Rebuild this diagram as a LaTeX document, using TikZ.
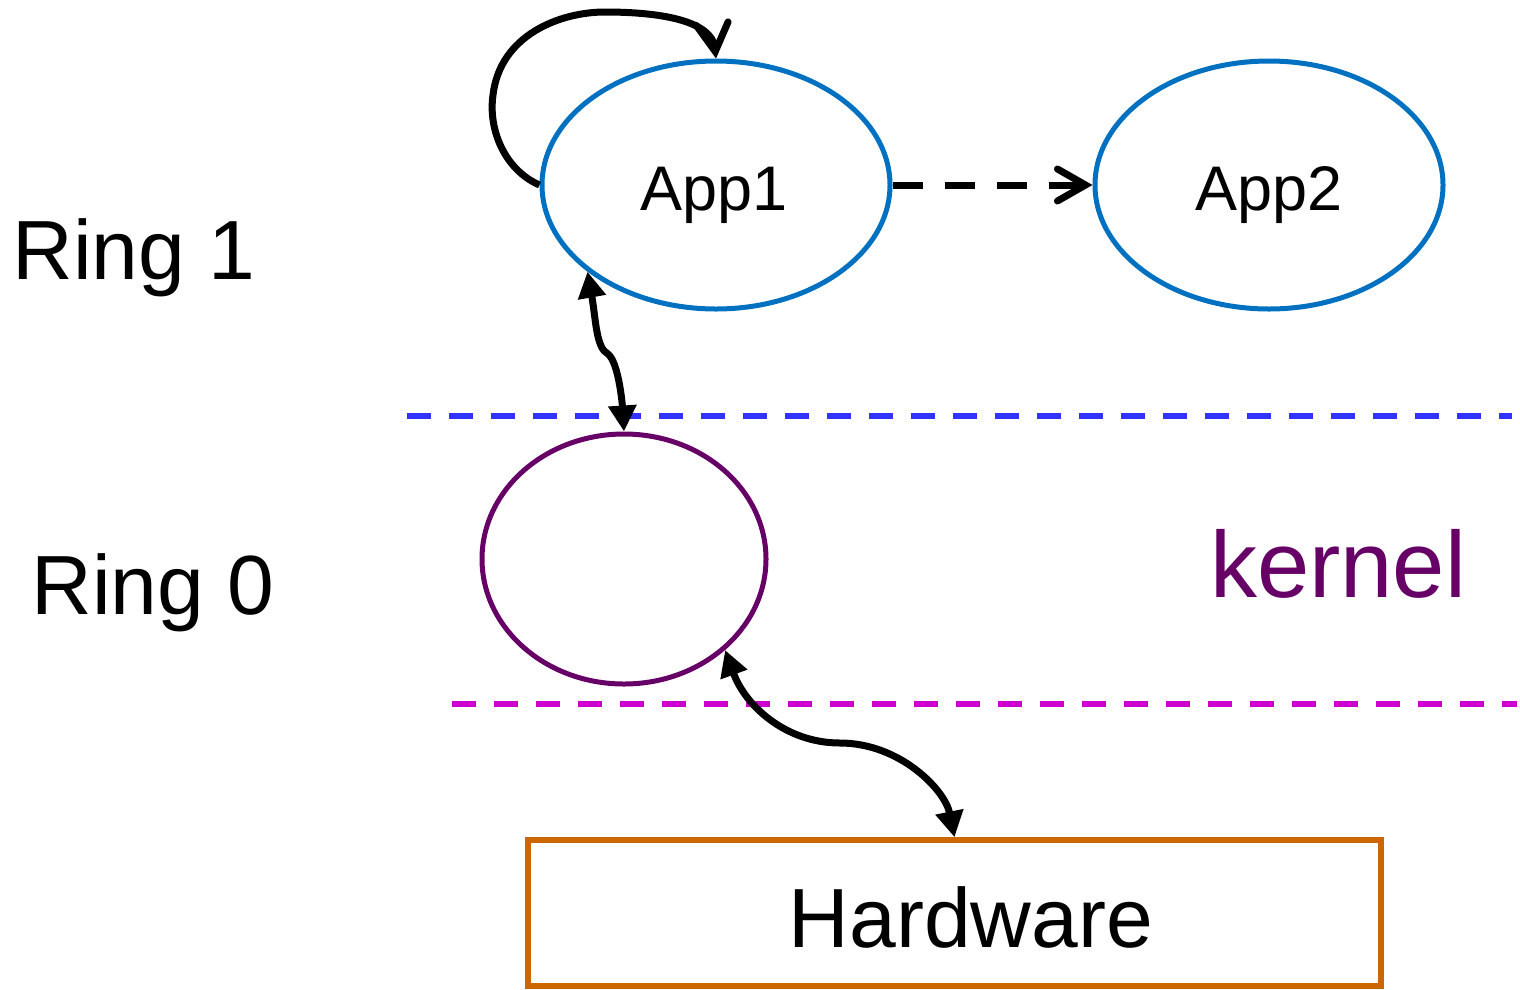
\documentclass[tikz,border=0pt]{standalone}
\usepackage{fontspec}
\setmainfont{Liberation Sans}
\usetikzlibrary{shapes.geometric,arrows.meta}
\definecolor{appblue}{RGB}{0,112,192}
\definecolor{kpurple}{RGB}{102,0,102}
\definecolor{hworange}{RGB}{204,102,0}
\definecolor{ringblue}{RGB}{51,51,255}
\definecolor{ringmag}{RGB}{204,0,204}
\tikzset{
  appnode/.style={ellipse, draw=appblue, line width=5pt, minimum width=348pt, minimum height=248pt, inner sep=0pt},
  kernnode/.style={ellipse, draw=kpurple, line width=5pt, minimum width=284pt, minimum height=250pt, inner sep=0pt},
  hwbox/.style={rectangle, draw=hworange, line width=5.5pt, minimum width=853pt, minimum height=146pt, inner sep=0pt},
  lbl/.style={anchor=base, inner sep=0pt},
  conn/.style={draw=black, line width=7pt},
  bothtri/.style={{Triangle[length=26pt,width=27pt]}-{Triangle[length=26pt,width=27pt]}},
  openv/.style={-{Straight Barb[length=28pt,width=32pt,line cap=round]}},
  ringline/.style={line width=5.5pt, dash pattern=on 24pt off 18pt},
}
\begin{document}
\begin{tikzpicture}[x=1pt,y=-1pt]
\useasboundingbox (0,0) rectangle (1520,989);
% ring separators
\coordinate (b1) at (407,416);
\coordinate (b2) at (1512,416);
\coordinate (m1) at (452,704);
\coordinate (m2) at (1517,704);
\draw[ringline, draw=ringblue] (b1) -- (b2);
\draw[ringline, draw=ringmag] (m1) -- (m2);
% nodes
\node[appnode] (app1) at (716,185) {};
\node[appnode] (app2) at (1269,185) {};
\node[kernnode] (kern) at (624,559) {};
\node[hwbox] (hw) at (954.5,913) {};
% labels
\node[lbl] (t1) at (714,210) {\fontsize{63}{63}\selectfont App1};
\node[lbl] (t2) at (1269,210) {\fontsize{63}{63}\selectfont App2};
\node[lbl] (r1) at (134,279) {\fontsize{84}{84}\selectfont Ring 1};
\node[lbl] (r0) at (153,614) {\fontsize{84}{84}\selectfont Ring 0};
\node[lbl, text=kpurple] (kl) at (1338,597) {\fontsize{94}{94}\selectfont kernel};
\node[lbl] (hl) at (971,947) {\fontsize{84}{84}\selectfont Hardware};
% connectors
\draw[conn, openv] (app1.west) .. controls (505,170) and (488,130) .. (493,95)
   .. controls (500,35) and (560,12) .. (605,12)
   .. controls (665,12) and (712,22) .. (app1.north);
\draw[conn, openv, dash pattern=on 30pt off 22pt] (app1.east) -- (app2.west);
\draw[conn, bothtri] (app1.214.6) .. controls (596,320) and (596,348) .. (608,354)
   .. controls (618,362) and (622,400) .. (kern.north);
\draw[conn, bothtri] (kern.-42) .. controls (745,705) and (785,743) .. (840,743)
   .. controls (900,743) and (945,790) .. (hw.north);
\end{tikzpicture}
\end{document}
